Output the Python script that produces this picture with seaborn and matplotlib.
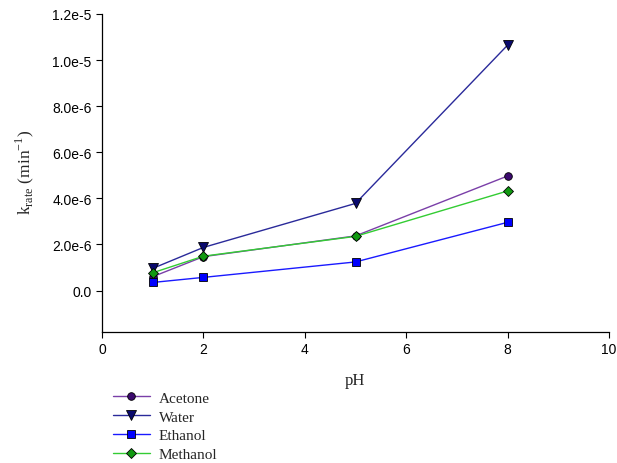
import matplotlib
matplotlib.use("Agg")
import matplotlib.pyplot as plt
import seaborn as sns
import pandas as pd

ph = [1, 2, 5, 8]
acetone = [0.60e-6, 1.47e-6, 2.37e-6, 4.97e-6]
water = [0.96e-6, 1.87e-6, 3.78e-6, 10.65e-6]
ethanol = [0.35e-6, 0.57e-6, 1.24e-6, 2.96e-6]
methanol = [0.77e-6, 1.49e-6, 2.35e-6, 4.32e-6]

series_names = ["Acetone", "Water", "Ethanol", "Methanol"]
series_values = [acetone, water, ethanol, methanol]
line_colors = ["#7a3fa8", "#2a2a9a", "#1a1aff", "#33cc33"]
marker_colors = ["#3c0a6e", "#0a0a6e", "#0000ff", "#119911"]
markers = ["o", "v", "s", "D"]
marker_sizes = [5.5, 6.5, 5.5, 5.5]

xticks = [0, 2, 4, 6, 8, 10]
yticks = [0.0, 2e-6, 4e-6, 6e-6, 8e-6, 1.0e-5, 1.2e-5]
ytick_labels = ["0.0", "2.0e-6", "4.0e-6", "6.0e-6", "8.0e-6", "1.0e-5", "1.2e-5"]

sns.set_style("ticks")
plt.rcParams["font.family"] = ["Liberation Sans", "DejaVu Sans"]

fig = plt.figure(figsize=(6.17, 4.64), dpi=100)
ax = fig.add_axes([102 / 617, 1 - 333 / 464, (609 - 102) / 617, (333 - 15) / 464])

handles = []
for name, vals, lc, mc, mk, ms in zip(series_names, series_values, line_colors,
                                      marker_colors, markers, marker_sizes):
    df = pd.DataFrame({"pH": ph, "k": vals})
    sns.lineplot(data=df, x="pH", y="k", ax=ax, color=lc, linewidth=1.0,
                 marker=mk, markersize=ms, markerfacecolor=mc,
                 markeredgecolor="black", markeredgewidth=0.6, label=name,
                 legend=False)
    handles.append(ax.lines[-1])

ax.set_xlim(0, 10)
ax.set_ylim(-1.8e-6, 1.2e-5)
ax.set_xticks(xticks)
ax.set_xticklabels([str(t) for t in xticks], fontsize=10)
ax.set_yticks(yticks)
ax.set_yticklabels(ytick_labels, fontsize=10)
ax.tick_params(direction="out", length=4, width=0.8, colors="black")
for s in ["top", "right"]:
    ax.spines[s].set_visible(False)
for s in ["left", "bottom"]:
    ax.spines[s].set_linewidth(0.9)
    ax.spines[s].set_color("black")

ax.set_xlabel("pH", fontsize=12, family="Liberation Serif")
ax.xaxis.set_label_coords((355 - 102) / 507, -(373 - 333) / 318)
ax.set_ylabel(r"k$_{\mathregular{rate}}$ (min$^{\mathregular{-1}}$)", fontsize=12.5,
              family="Liberation Serif")
ax.yaxis.set_label_coords(-(102 - 36) / 507, (333 - 172) / 318)

fig.legend(handles=handles, labels=series_names, loc="upper left",
           bbox_to_anchor=(107 / 617, 1 - 386 / 464), frameon=False,
           prop={"family": "Liberation Serif", "size": 11},
           handlelength=2.4, labelspacing=0.33, borderaxespad=0, handletextpad=0.6)

fig.savefig("out.png", dpi=100)
